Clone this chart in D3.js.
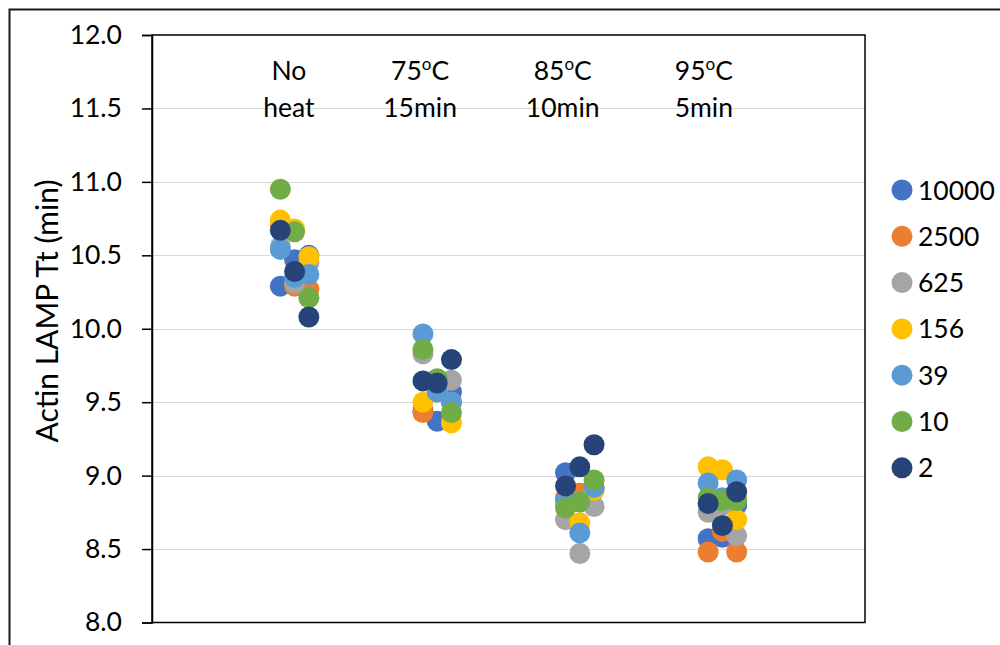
<!DOCTYPE html>
<html>
<head>
<meta charset="utf-8">
<script src="https://cdn.jsdelivr.net/npm/d3@7"></script>
<style>
  html, body { margin: 0; padding: 0; background: #fff; }
  svg { display: block; }
  text { font-family: Lato, "Open Sans", sans-serif; fill: #000; }
</style>
</head>
<body>
<svg id="chart" width="1000" height="645"></svg>
<script>
// ---------- data ----------
const groupLabels = [["No", "heat"], ["75°C", "15min"], ["85°C", "10min"], ["95°C", "5min"]];
const groupX = [1, 2, 3, 4];
const replicateOffsets = [0, 0.1, 0.2];
const seriesNames = ["10000", "2500", "625", "156", "39", "10", "2"];
const seriesColors = ["#4472C4", "#ED7D31", "#A5A5A5", "#FFC000", "#5B9BD5", "#70AD47", "#264478"];
const yTicks = [8.0, 8.5, 9.0, 9.5, 10.0, 10.5, 11.0, 11.5, 12.0];

// values per series: [group][replicate]
const s10000 = [[10.29, 10.47, 10.50], [9.44, 9.37, 9.57], [9.02, 8.88, 8.92], [8.57, 8.58, 8.80]];
const s2500  = [[10.70, 10.29, 10.27], [9.43, 9.60, 9.50], [8.85, 8.88, 8.90], [8.48, 8.62, 8.48]];
const s625   = [[10.56, 10.31, 10.45], [9.83, 9.62, 9.65], [8.70, 8.47, 8.79], [8.75, 8.80, 8.59]];
const s156   = [[10.74, 10.68, 10.49], [9.50, 9.58, 9.36], [8.80, 8.68, 8.90], [9.06, 9.04, 8.70]];
const s39    = [[10.54, 10.35, 10.37], [9.965, 9.57, 9.50], [8.83, 8.61, 8.92], [8.95, 8.85, 8.97]];
const s10    = [[10.95, 10.66, 10.21], [9.86, 9.66, 9.43], [8.78, 8.82, 8.97], [8.85, 8.83, 8.83]];
const s2     = [[10.67, 10.39, 10.08], [9.645, 9.63, 9.79], [8.93, 9.06, 9.21], [8.81, 8.66, 8.89]];
const seriesValues = [s10000, s2500, s625, s156, s39, s10, s2];

// ---------- drawing ----------
const svg = d3.select("#chart");
const plot = { left: 152, right: 865, top: 35, bottom: 622.5 };
const FS = "26.5px";

const x = d3.scaleLinear().domain([0.1, 5.1]).range([plot.left, plot.right]);
const y = d3.scaleLinear().domain([8, 12]).range([plot.bottom, plot.top]);

// outer chart border
svg.append("rect")
  .attr("x", 9.5).attr("y", 9.5).attr("width", 1010).attr("height", 700)
  .attr("fill", "none").attr("stroke", "#1a1a1a").attr("stroke-width", 2);

// gridlines
svg.append("g")
  .selectAll("line").data(yTicks.slice(1, -1)).join("line")
  .attr("x1", plot.left).attr("x2", plot.right)
  .attr("y1", d => Math.round(y(d)) + 0.5).attr("y2", d => Math.round(y(d)) + 0.5)
  .attr("stroke", "#D9D9D9").attr("stroke-width", 1);

// plot frame
svg.append("rect")
  .attr("x", plot.left).attr("y", plot.top)
  .attr("width", plot.right - plot.left).attr("height", plot.bottom - plot.top)
  .attr("fill", "none").attr("stroke", "#000").attr("stroke-width", 1.5);

// y axis
const yAxis = d3.axisLeft(y).tickValues(yTicks).tickFormat(d3.format(".1f"))
  .tickSize(10).tickPadding(20);
const yg = svg.append("g").attr("transform", `translate(${plot.left},0)`).call(yAxis);
yg.select(".domain").attr("stroke", "#000").attr("stroke-width", 1.5);
yg.selectAll(".tick line").attr("stroke", "#000").attr("stroke-width", 1.5);
yg.selectAll(".tick text")
  .style("font-family", "Lato, 'Open Sans', sans-serif")
  .style("font-size", FS).attr("fill", "#000");

// y axis title
svg.append("text")
  .attr("transform", `translate(58, 311) rotate(-90)`)
  .attr("text-anchor", "middle")
  .style("font-size", "30px")
  .text("Actin LAMP Tt (min)");

// group labels
const labelShift = [-0.04, -0.12, -0.12, -0.13];
groupLabels.forEach((lines, i) => {
  const cx = x(groupX[i] + 0.1 + labelShift[i]);
  lines.forEach((ln, j) => {
    const t = svg.append("text")
      .attr("x", cx).attr("y", 80 + j * 37)
      .attr("text-anchor", "middle")
      .style("font-size", FS);
    const parts = ln.split("°");
    if (parts.length > 1) {
      t.append("tspan").text(parts[0]);
      t.append("tspan").text("o").style("font-size", "17px").attr("dy", -10);
      t.append("tspan").text(parts[1]).attr("dy", 10);
    } else {
      t.text(ln);
    }
  });
});

// points
const points = [];
seriesValues.forEach((sv, si) => {
  sv.forEach((grp, gi) => {
    grp.forEach((v, ri) => {
      points.push({ s: si, xv: groupX[gi] + replicateOffsets[ri], v });
    });
  });
});
svg.append("g")
  .selectAll("circle").data(points).join("circle")
  .attr("cx", d => x(d.xv)).attr("cy", d => y(d.v))
  .attr("r", 10.5)
  .attr("fill", d => seriesColors[d.s]);

// legend
const lg = svg.append("g");
seriesNames.forEach((name, i) => {
  const cy = 190 + i * 46.3;
  lg.append("circle").attr("cx", 902).attr("cy", cy).attr("r", 10.5).attr("fill", seriesColors[i]);
  lg.append("text").attr("x", 918).attr("y", cy + 9.5)
    .style("font-size", FS).text(name);
});
</script>
</body>
</html>
